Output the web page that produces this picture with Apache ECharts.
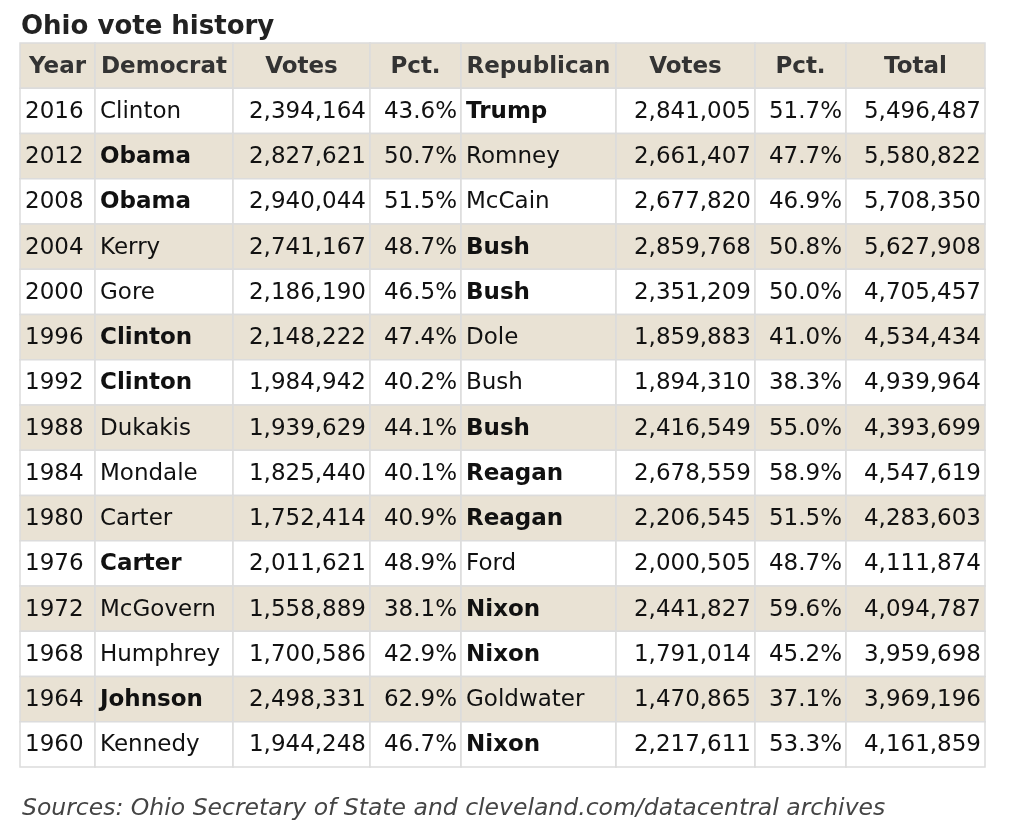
<!DOCTYPE html>
<html>
<head>
<meta charset="utf-8">
<script src="https://cdn.jsdelivr.net/npm/echarts@6/dist/echarts.min.js"></script>
<style>
  html, body { margin: 0; padding: 0; background: #fff; }
  #vote-table { width: 1023px; height: 836px; }
</style>
</head>
<body>
<div id="vote-table"></div>
<script>
var headers = ['Year', 'Democrat', 'Votes', 'Pct.', 'Republican', 'Votes', 'Pct.', 'Total'];
var years = [2016, 2012, 2008, 2004, 2000, 1996, 1992, 1988, 1984, 1980, 1976, 1972, 1968, 1964, 1960];
var demNames = ['Clinton', 'Obama', 'Obama', 'Kerry', 'Gore', 'Clinton', 'Clinton', 'Dukakis', 'Mondale', 'Carter', 'Carter', 'McGovern', 'Humphrey', 'Johnson', 'Kennedy'];
var demVotes = [2394164, 2827621, 2940044, 2741167, 2186190, 2148222, 1984942, 1939629, 1825440, 1752414, 2011621, 1558889, 1700586, 2498331, 1944248];
var demPct = [43.6, 50.7, 51.5, 48.7, 46.5, 47.4, 40.2, 44.1, 40.1, 40.9, 48.9, 38.1, 42.9, 62.9, 46.7];
var repNames = ['Trump', 'Romney', 'McCain', 'Bush', 'Bush', 'Dole', 'Bush', 'Bush', 'Reagan', 'Reagan', 'Ford', 'Nixon', 'Nixon', 'Goldwater', 'Nixon'];
var repVotes = [2841005, 2661407, 2677820, 2859768, 2351209, 1859883, 1894310, 2416549, 2678559, 2206545, 2000505, 2441827, 1791014, 1470865, 2217611];
var repPct = [51.7, 47.7, 46.9, 50.8, 50.0, 41.0, 38.3, 55.0, 58.9, 51.5, 48.7, 59.6, 45.2, 37.1, 53.3];
var totals = [5496487, 5580822, 5708350, 5627908, 4705457, 4534434, 4939964, 4393699, 4547619, 4283603, 4111874, 4094787, 3959698, 3969196, 4161859];
var winners = ['R', 'D', 'D', 'R', 'R', 'D', 'D', 'R', 'R', 'R', 'D', 'R', 'R', 'D', 'R'];

// layout: column edges in pixels from the table's left side
var colEdges = [0, 75, 213, 350, 441, 596, 735, 826, 965];
var colAlign = ['left', 'left', 'right', 'right', 'left', 'right', 'right', 'right'];
var FONT = '"DejaVu Sans", sans-serif';

function fmt(n) { return n.toLocaleString('en-US'); }

var rowLabels = ['header'].concat(years.map(String));
var cells = [];
var data = [];

headers.forEach(function (h, c) {
  cells.push({ text: h, header: true, bold: true });
  data.push([c, 0]);
});
years.forEach(function (y, i) {
  var row = [
    String(y),
    demNames[i],
    fmt(demVotes[i]),
    demPct[i].toFixed(1) + '%',
    repNames[i],
    fmt(repVotes[i]),
    repPct[i].toFixed(1) + '%',
    fmt(totals[i])
  ];
  row.forEach(function (t, c) {
    var bold = (c === 1 && winners[i] === 'D') || (c === 4 && winners[i] === 'R');
    cells.push({ text: t, header: false, bold: bold });
    data.push([c, i + 1]);
  });
});

var dom = document.getElementById('vote-table');
var myChart = echarts.init(dom, null, { renderer: 'canvas' });

var option = {
  animation: false,
  title: [
    {
      text: 'Ohio vote history',
      left: 16,
      top: 9,
      textStyle: { fontFamily: FONT, fontSize: 26, fontWeight: 'bold', color: '#222' }
    },
    {
      text: 'Sources: Ohio Secretary of State and cleveland.com/datacentral archives',
      left: 17,
      top: 792,
      textStyle: { fontFamily: FONT, fontSize: 23.5, fontStyle: 'italic', fontWeight: 'normal', color: '#444' }
    }
  ],
  grid: { left: 20, top: 43, width: 965, height: 724 },
  xAxis: { type: 'value', min: 0, max: 965, show: false },
  yAxis: { type: 'category', data: rowLabels, inverse: true, show: false },
  series: [
    {
      type: 'custom',
      clip: false,
      silent: true,
      data: data,
      renderItem: function (params, api) {
        var c = api.value(0);
        var r = api.value(1);
        var cell = cells[params.dataIndex];
        var p0 = api.coord([colEdges[c], r]);
        var p1 = api.coord([colEdges[c + 1], r]);
        var h = api.size([0, 1])[1];
        var x0 = p0[0], x1 = p1[0], cy = p0[1];
        var beige = cell.header || r % 2 === 0;
        var align = cell.header ? 'center' : colAlign[c];
        var tx = align === 'center' ? (x0 + x1) / 2 : (align === 'left' ? x0 + 5 : x1 - 4);
        return {
          type: 'group',
          children: [
            {
              type: 'rect',
              shape: { x: x0, y: cy - h / 2, width: x1 - x0, height: h },
              style: { fill: beige ? '#e9e2d4' : '#ffffff', stroke: '#dcdcdc', lineWidth: 1.5 }
            },
            {
              type: 'text',
              style: {
                x: tx,
                y: cy + 1,
                text: cell.text,
                align: align,
                verticalAlign: 'middle',
                fontFamily: FONT,
                fontSize: 23,
                fontWeight: cell.bold ? 'bold' : 'normal',
                fill: cell.header ? '#333' : '#111'
              }
            }
          ]
        };
      }
    }
  ]
};

myChart.setOption(option);
window.addEventListener('resize', myChart.resize);
</script>
</body>
</html>
